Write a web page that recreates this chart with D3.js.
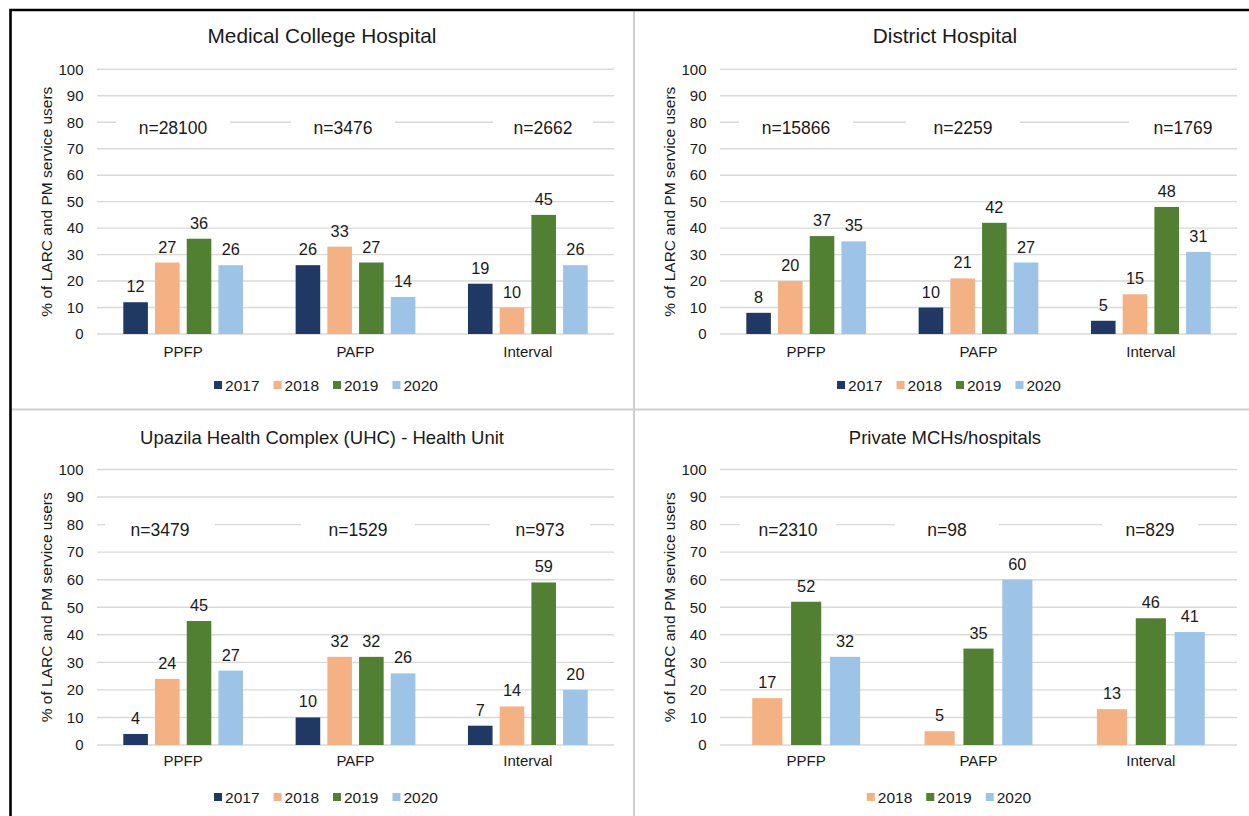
<!DOCTYPE html>
<html>
<head>
<meta charset="utf-8">
<script src="https://cdn.jsdelivr.net/npm/d3@7"></script>
<style>
  html, body { margin: 0; padding: 0; background: #fff; }
  svg { display: block; }
  text { font-family: "Liberation Sans", Arial, sans-serif; fill: #1a1a1a; }
</style>
</head>
<body>
<svg id="chart" width="1249" height="816"></svg>
<script>
// ---------- data ----------
const categories = ["PPFP", "PAFP", "Interval"];
const yTicks = [0, 10, 20, 30, 40, 50, 60, 70, 80, 90, 100];
const yTitle = "% of LARC and PM service users";

const panelTitles = [
  "Medical College Hospital",
  "District Hospital",
  "Upazila Health Complex (UHC) - Health Unit",
  "Private MCHs/hospitals"
];

// Medical College Hospital
const mch2017 = [12, 26, 19];
const mch2018 = [27, 33, 10];
const mch2019 = [36, 27, 45];
const mch2020 = [26, 14, 26];
const mchN = [28100, 3476, 2662];

// District Hospital
const dh2017 = [8, 10, 5];
const dh2018 = [20, 21, 15];
const dh2019 = [37, 42, 48];
const dh2020 = [35, 27, 31];
const dhN = [15866, 2259, 1769];

// Upazila Health Complex
const uhc2017 = [4, 10, 7];
const uhc2018 = [24, 32, 14];
const uhc2019 = [45, 32, 59];
const uhc2020 = [27, 26, 20];
const uhcN = [3479, 1529, 973];

// Private MCHs/hospitals
const pvt2018 = [17, 5, 13];
const pvt2019 = [52, 35, 46];
const pvt2020 = [32, 60, 41];
const pvtN = [2310, 98, 829];

const yearColors = { "2017": "#203864", "2018": "#f4b183", "2019": "#518033", "2020": "#9dc3e6" };

const panels = [
  { title: panelTitles[0], n: mchN, series: [["2017", mch2017], ["2018", mch2018], ["2019", mch2019], ["2020", mch2020]] },
  { title: panelTitles[1], n: dhN,  series: [["2017", dh2017], ["2018", dh2018], ["2019", dh2019], ["2020", dh2020]] },
  { title: panelTitles[2], n: uhcN, series: [["2017", uhc2017], ["2018", uhc2018], ["2019", uhc2019], ["2020", uhc2020]] },
  { title: panelTitles[3], n: pvtN, series: [["2018", pvt2018], ["2019", pvt2019], ["2020", pvt2020]] }
];

// ---------- layout (positions only) ----------
const colOffset = 623;
const layouts = [
  { top: 69.3, bottom: 334, titleY: 43, titleSize: 20.8, catY: 357, legendY: 385, nDy: 12,
    boxes: [[76, 57], [246, 52], [446, 50]] },
  { top: 69.3, bottom: 334, titleY: 43, titleSize: 20.8, catY: 357, legendY: 385, nDy: 12,
    boxes: [[76, 57], [243, 57], [463, 54]] },
  { top: 469.5, bottom: 745, titleY: 444, titleSize: 18.5, catY: 766, legendY: 797, nDy: 11,
    boxes: [[63, 55], [261, 57], [443, 50]] },
  { top: 469.5, bottom: 745, titleY: 444, titleSize: 18.5, catY: 766, legendY: 797, nDy: 11,
    boxes: [[68, 48], [227, 52], [430, 48]] }
];

const svg = d3.select("#chart");

// frame and dividers
svg.append("line").attr("x1", 634).attr("x2", 634).attr("y1", 10).attr("y2", 816)
  .attr("stroke", "#d0d0d0").attr("stroke-width", 2);
svg.append("line").attr("x1", 10).attr("x2", 1249).attr("y1", 409.5).attr("y2", 409.5)
  .attr("stroke", "#d0d0d0").attr("stroke-width", 2);
svg.append("path").attr("d", "M10.5,816 V10 H1249").attr("fill", "none")
  .attr("stroke", "#000").attr("stroke-width", 2.6);

panels.forEach((p, i) => {
  const col = i % 2;
  const L = layouts[i];
  const dx = col * colOffset;
  const plotLeft = 97 + dx, plotRight = 614 + dx;
  const panelCenter = 322 + dx;
  const g = svg.append("g");

  const y = d3.scaleLinear().domain([0, 100]).range([L.bottom, L.top]);
  const x0 = d3.scaleBand().domain(categories).range([plotLeft, plotRight]).padding(0);

  // title
  g.append("text").attr("x", panelCenter).attr("y", L.titleY)
    .attr("text-anchor", "middle").style("font-size", L.titleSize + "px").text(p.title);

  // gridlines
  g.append("g").selectAll("line").data(yTicks).join("line")
    .attr("x1", plotLeft).attr("x2", plotRight)
    .attr("y1", d => y(d)).attr("y2", d => y(d))
    .attr("stroke", "#d9d9d9").attr("stroke-width", 1.4);

  // y axis tick labels via d3 axis
  const yAxis = d3.axisLeft(y).tickValues(yTicks).tickSize(0).tickPadding(13.5);
  const ya = g.append("g").attr("transform", `translate(${plotLeft},0)`).call(yAxis);
  ya.select(".domain").remove();
  ya.selectAll("text").style("font-size", "15px").attr("fill", "#1a1a1a")
    .style("font-family", '"Liberation Sans", Arial, sans-serif');

  // y title
  g.append("text")
    .attr("transform", `translate(${plotLeft - 45.5},${(L.top + L.bottom) / 2}) rotate(-90)`)
    .attr("text-anchor", "middle").style("font-size", "15.5px").text(yTitle);

  // n labels with white boxes
  const nGroup = g.append("g");
  p.n.forEach((v, k) => {
    const [cx, hw] = L.boxes[k];
    nGroup.append("rect").attr("x", plotLeft + cx - hw).attr("y", y(80) - 8)
      .attr("width", hw * 2).attr("height", 26).attr("fill", "#fff");
    nGroup.append("text").attr("x", plotLeft + cx).attr("y", y(80) + L.nDy)
      .attr("text-anchor", "middle").style("font-size", "17.5px").text("n=" + v);
  });

  // bars
  const nS = p.series.length;
  const band = x0.bandwidth();
  const w = band / (nS + (nS - 1) * 0.29 + 2.14);
  const gap = 0.29 * w;
  const groupW = nS * w + (nS - 1) * gap;
  const x1 = d3.scaleBand().domain(p.series.map(s => s[0])).range([0, groupW])
    .paddingInner(gap / (w + gap)).paddingOuter(0);

  const rows = [];
  categories.forEach((c, ci) => {
    p.series.forEach(([yr, vals]) => rows.push({ cat: c, yr, v: vals[ci] }));
  });

  const barG = g.append("g");
  barG.selectAll("rect").data(rows).join("rect")
    .attr("x", d => x0(d.cat) + band / 2 - groupW / 2 + x1(d.yr))
    .attr("width", x1.bandwidth())
    .attr("y", d => y(d.v))
    .attr("height", d => y(0) - y(d.v))
    .attr("fill", d => yearColors[d.yr]);

  barG.selectAll("text").data(rows).join("text")
    .attr("x", d => x0(d.cat) + band / 2 - groupW / 2 + x1(d.yr) + x1.bandwidth() / 2)
    .attr("y", d => y(d.v) - 10)
    .attr("text-anchor", "middle").style("font-size", "16.3px")
    .text(d => d.v);

  // category labels
  g.append("g").selectAll("text").data(categories).join("text")
    .attr("x", d => x0(d) + band / 2).attr("y", L.catY)
    .attr("text-anchor", "middle").style("font-size", "15px").text(d => d);

  // legend
  const lg = g.append("g");
  let cursor = 0;
  p.series.forEach(([yr]) => {
    const it = lg.append("g").attr("transform", `translate(${cursor},0)`);
    it.append("rect").attr("x", 0).attr("y", -4).attr("width", 8).attr("height", 8)
      .attr("fill", yearColors[yr]);
    const t = it.append("text").attr("x", 11).attr("y", 5.5).style("font-size", "15.5px").text(yr);
    cursor += 11 + t.node().getComputedTextLength() + 14;
  });
  const legendW = cursor - 14;
  lg.attr("transform", `translate(${panelCenter + 4 - legendW / 2},${L.legendY})`);
});
</script>
</body>
</html>
